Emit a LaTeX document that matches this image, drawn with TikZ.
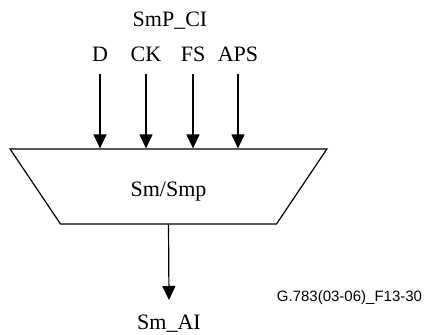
\documentclass[tikz,border=0pt]{standalone}
\usepackage{fontspec}
\setmainfont{Liberation Serif}
\newfontfamily\figfont{Liberation Sans}
\usetikzlibrary{arrows.meta,positioning,shapes.geometric}

\begin{document}
\begin{tikzpicture}[
    x=1pt, y=-1pt,
    every node/.style={font=\fontsize{22}{26}\selectfont},
    blk/.style={trapezium,draw,line width=1.2pt,shape border rotate=180,
      trapezium angle=54.7,trapezium stretches=true,
      minimum width=317pt,minimum height=75pt,inner sep=0pt,
      text height=22pt,text depth=3pt},
    sig/.style={anchor=base,inner sep=0pt},
    arrow/.style={-{Triangle[length=14pt,width=13pt]},line width=1.2pt}
  ]
    \useasboundingbox (0,0) rectangle (430,334);
    \node[blk] (sm) at (168.5,186.5) {Sm/Smp};
    \node[sig] (d) at (100,62) {D};
    \node[sig] (ck) at (146,62) {CK};
    \node[sig] (fs) at (193,62) {FS};
    \node[sig] (aps) at (238,62) {APS};
    \node[sig] (smpci) at (170,27) {SmP\_CI};
    \node[sig] (smai) at (169,329) {Sm\_AI};
    \node[sig,font=\figfont\fontsize{15}{18}\selectfont] (fig) at (349.5,301) {G.783(03-06)\_F13-30};

    \draw[arrow] ([yshift=-12pt]d.base) -- (d |- sm.north);
    \draw[arrow] ([yshift=-12pt]ck.base) -- (ck |- sm.north);
    \draw[arrow] ([yshift=-12pt]fs.base) -- (fs |- sm.north);
    \draw[arrow] ([yshift=-12pt]aps.base) -- (aps |- sm.north);
    \draw[arrow] (sm.south) -- ([yshift=29pt]smai.base);
\end{tikzpicture}
\end{document}
